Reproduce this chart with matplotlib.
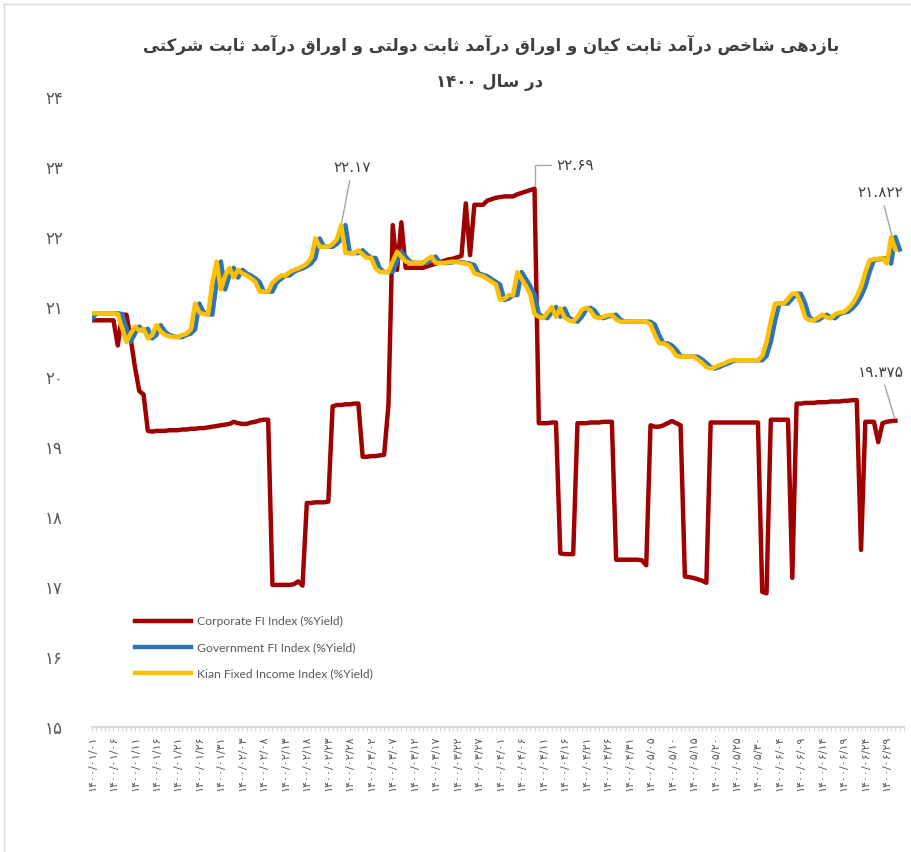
import matplotlib
matplotlib.use('Agg')
import matplotlib.pyplot as plt
import matplotlib.ticker as ticker
from matplotlib import font_manager as fm, ft2font
from matplotlib.lines import Line2D
import numpy as np

plt.rcParams['font.family'] = ['DejaVu Sans']

# ── data ──────────────────────────────────────────────────────
title_1 = 'بازدهی شاخص درآمد ثابت کیان و اوراق درآمد ثابت دولتی و اوراق درآمد ثابت شرکتی'
title_2 = 'در سال ۱۴۰۰'

series_names = ['Corporate FI Index (%Yield)',
                'Government FI Index (%Yield)',
                'Kian Fixed Income Index (%Yield)']

date_labels = [
    '۱۴۰۰/۰۱/۰۱', '۱۴۰۰/۰۱/۰۶', '۱۴۰۰/۰۱/۱۱', '۱۴۰۰/۰۱/۱۶', '۱۴۰۰/۰۱/۲۱',
    '۱۴۰۰/۰۱/۲۶', '۱۴۰۰/۰۱/۳۱', '۱۴۰۰/۰۲/۰۳', '۱۴۰۰/۰۲/۰۸', '۱۴۰۰/۰۲/۱۳',
    '۱۴۰۰/۰۲/۱۸', '۱۴۰۰/۰۲/۲۳', '۱۴۰۰/۰۲/۲۸', '۱۴۰۰/۰۳/۰۲', '۱۴۰۰/۰۳/۰۷',
    '۱۴۰۰/۰۳/۱۲', '۱۴۰۰/۰۳/۱۷', '۱۴۰۰/۰۳/۲۲', '۱۴۰۰/۰۳/۲۷', '۱۴۰۰/۰۴/۰۱',
    '۱۴۰۰/۰۴/۰۶', '۱۴۰۰/۰۴/۱۱', '۱۴۰۰/۰۴/۱۶', '۱۴۰۰/۰۴/۲۱', '۱۴۰۰/۰۴/۲۶',
    '۱۴۰۰/۰۴/۳۱', '۱۴۰۰/۰۵/۰۵', '۱۴۰۰/۰۵/۱۰', '۱۴۰۰/۰۵/۱۵', '۱۴۰۰/۰۵/۲۰',
    '۱۴۰۰/۰۵/۲۵', '۱۴۰۰/۰۵/۳۰', '۱۴۰۰/۰۶/۰۴', '۱۴۰۰/۰۶/۰۹', '۱۴۰۰/۰۶/۱۴',
    '۱۴۰۰/۰۶/۱۹', '۱۴۰۰/۰۶/۲۴', '۱۴۰۰/۰۶/۲۹',
]
label_step = 5          # one date label every 5 trading days
n_days = 190            # categories on the axis

y_ticks = [15, 16, 17, 18, 19, 20, 21, 22, 23, 24]
y_labels = ['۱۵', '۱۶', '۱۷', '۱۸', '۱۹', '۲۰', '۲۱', '۲۲', '۲۳', '۲۴']

corporate = [
    20.81, 20.81, 20.81, 20.81, 20.81, 20.81, 20.45, 20.89, 20.89, 20.55,
    20.14, 19.80, 19.75, 19.23, 19.22, 19.23, 19.23, 19.23, 19.24, 19.24,
    19.24, 19.25, 19.25, 19.26, 19.26, 19.27, 19.27, 19.28, 19.29, 19.30,
    19.31, 19.32, 19.33, 19.36, 19.34, 19.33, 19.33, 19.35, 19.36, 19.38,
    19.39, 19.39, 17.03, 17.03, 17.03, 17.03, 17.03, 17.04, 17.08, 17.02,
    18.20, 18.20, 18.21, 18.21, 18.21, 18.22, 19.58, 19.60, 19.60, 19.61,
    19.61, 19.62, 19.62, 18.86, 18.86, 18.87, 18.87, 18.88, 18.89, 19.60,
    22.17, 21.53, 22.21, 21.56, 21.56, 21.56, 21.56, 21.56, 21.58, 21.60,
    21.62, 21.64, 21.66, 21.68, 21.69, 21.71, 21.73, 22.48, 21.74, 22.46,
    22.46, 22.46, 22.52, 22.54, 22.56, 22.57, 22.58, 22.58, 22.58, 22.61,
    22.63, 22.65, 22.67, 22.69, 19.34, 19.34, 19.34, 19.35, 19.35, 17.48,
    17.47, 17.47, 17.47, 19.34, 19.34, 19.34, 19.35, 19.35, 19.35, 19.36,
    19.36, 19.36, 17.39, 17.39, 17.39, 17.39, 17.39, 17.39, 17.38, 17.31,
    19.31, 19.29, 19.29, 19.31, 19.34, 19.37, 19.34, 19.31, 17.15, 17.14,
    17.13, 17.11, 17.09, 17.06, 19.35, 19.35, 19.35, 19.35, 19.35, 19.35,
    19.35, 19.35, 19.35, 19.35, 19.35, 19.35, 16.93, 16.91, 19.39, 19.39,
    19.39, 19.39, 19.39, 17.13, 19.62, 19.62, 19.63, 19.63, 19.63, 19.64,
    19.64, 19.64, 19.65, 19.65, 19.65, 19.66, 19.66, 19.67, 19.67, 17.53,
    19.36, 19.36, 19.36, 19.07, 19.34, 19.36, 19.37, 19.375,
]

kian = [
    20.91, 20.91, 20.91, 20.91, 20.91, 20.91, 20.90, 20.70, 20.50, 20.62,
    20.72, 20.66, 20.69, 20.55, 20.60, 20.74, 20.65, 20.60, 20.58, 20.57,
    20.57, 20.60, 20.62, 20.68, 21.05, 20.92, 20.90, 20.89, 21.35, 21.65,
    21.25, 21.45, 21.56, 21.42, 21.53, 21.48, 21.45, 21.41, 21.36, 21.22,
    21.22, 21.22, 21.35, 21.40, 21.45, 21.45, 21.50, 21.53, 21.55, 21.58,
    21.62, 21.70, 21.98, 21.86, 21.86, 21.86, 21.90, 21.97, 22.17, 21.77,
    21.77, 21.77, 21.81, 21.75, 21.70, 21.70, 21.55, 21.50, 21.50, 21.50,
    21.65, 21.79, 21.72, 21.65, 21.63, 21.63, 21.63, 21.63, 21.68, 21.72,
    21.63, 21.63, 21.63, 21.64, 21.65, 21.64, 21.63, 21.62, 21.60, 21.48,
    21.46, 21.44, 21.40, 21.36, 21.32, 21.10, 21.12, 21.17, 21.17, 21.50,
    21.40, 21.30, 21.18, 20.90, 20.86, 20.84, 20.92, 21.00, 20.86, 20.98,
    20.85, 20.81, 20.79, 20.86, 20.96, 20.99, 20.95, 20.86, 20.84, 20.86,
    20.88, 20.89, 20.82, 20.79, 20.79, 20.79, 20.79, 20.79, 20.79, 20.79,
    20.75, 20.60, 20.48, 20.48, 20.45, 20.39, 20.30, 20.29, 20.29, 20.29,
    20.29, 20.25, 20.20, 20.14, 20.12, 20.14, 20.17, 20.19, 20.22, 20.24,
    20.24, 20.24, 20.24, 20.24, 20.24, 20.24, 20.30, 20.50, 20.80, 21.05,
    21.05, 21.05, 21.12, 21.19, 21.19, 21.05, 20.85, 20.81, 20.81, 20.85,
    20.89, 20.85, 20.84, 20.90, 20.92, 20.93, 20.98, 21.05, 21.15, 21.29,
    21.50, 21.67, 21.68, 21.69, 21.70, 21.62, 22.00, 21.822,
]

government = [
    20.83, 20.91, 20.91, 20.91, 20.91, 20.91, 20.91, 20.90, 20.70, 20.50,
    20.62, 20.72, 20.66, 20.69, 20.55, 20.60, 20.74, 20.65, 20.60, 20.58,
    20.57, 20.57, 20.60, 20.62, 20.68, 21.05, 20.92, 20.90, 20.89, 21.35,
    21.65, 21.25, 21.45, 21.56, 21.42, 21.53, 21.48, 21.45, 21.41, 21.36,
    21.22, 21.22, 21.22, 21.35, 21.40, 21.45, 21.45, 21.50, 21.53, 21.55,
    21.58, 21.62, 21.70, 21.98, 21.86, 21.86, 21.86, 21.90, 21.97, 22.17,
    21.77, 21.77, 21.77, 21.81, 21.75, 21.70, 21.70, 21.55, 21.50, 21.50,
    21.50, 21.65, 21.79, 21.72, 21.65, 21.63, 21.63, 21.63, 21.63, 21.68,
    21.72, 21.63, 21.63, 21.63, 21.64, 21.65, 21.64, 21.63, 21.62, 21.60,
    21.48, 21.46, 21.44, 21.40, 21.36, 21.32, 21.10, 21.12, 21.17, 21.17,
    21.50, 21.40, 21.30, 21.18, 20.90, 20.86, 20.84, 20.92, 21.00, 20.86,
    20.98, 20.85, 20.81, 20.79, 20.86, 20.96, 20.99, 20.95, 20.86, 20.84,
    20.86, 20.88, 20.89, 20.82, 20.79, 20.79, 20.79, 20.79, 20.79, 20.79,
    20.79, 20.75, 20.60, 20.48, 20.48, 20.45, 20.39, 20.30, 20.29, 20.29,
    20.29, 20.29, 20.25, 20.20, 20.14, 20.12, 20.14, 20.17, 20.19, 20.22,
    20.24, 20.24, 20.24, 20.24, 20.24, 20.24, 20.24, 20.30, 20.50, 20.80,
    21.05, 21.05, 21.05, 21.12, 21.19, 21.19, 21.05, 20.85, 20.81, 20.81,
    20.85, 20.89, 20.85, 20.84, 20.90, 20.92, 20.93, 20.98, 21.05, 21.15,
    21.29, 21.50, 21.67, 21.68, 21.69, 21.70, 21.62, 22.00, 21.822,
]

ann_kian_peak = '۲۲.۱۷'
ann_corp_peak = '۲۲.۶۹'
ann_kian_last = '۲۱.۸۲۲'
ann_corp_last = '۱۹.۳۷۵'

COLORS = {'corp': '#A00000', 'gov': '#2E75B6', 'kian': '#FFC000'}
TEXT = '#404040'
AXIS = '#D9D9D9'

# ── minimal Persian shaping (matplotlib has no bidi / joining) ─
FORMS = {
    'ا': ('\uFE8D', '\uFE8E', None, None),
    'آ': ('\uFE81', '\uFE82', None, None),
    'د': ('\uFEA9', '\uFEAA', None, None),
    'ر': ('\uFEAD', '\uFEAE', None, None),
    'ز': ('\uFEAF', '\uFEB0', None, None),
    'و': ('\uFEED', '\uFEEE', None, None),
    'ب': ('\uFE8F', '\uFE90', '\uFE91', '\uFE92'),
    'ت': ('\uFE95', '\uFE96', '\uFE97', '\uFE98'),
    'ث': ('\uFE99', '\uFE9A', '\uFE9B', '\uFE9C'),
    'خ': ('\uFEA5', '\uFEA6', '\uFEA7', '\uFEA8'),
    'س': ('\uFEB1', '\uFEB2', '\uFEB3', '\uFEB4'),
    'ش': ('\uFEB5', '\uFEB6', '\uFEB7', '\uFEB8'),
    'ص': ('\uFEB9', '\uFEBA', '\uFEBB', '\uFEBC'),
    'ق': ('\uFED5', '\uFED6', '\uFED7', '\uFED8'),
    'ک': ('\uFB8E', '\uFB8F', '\uFB90', '\uFB91'),
    'ل': ('\uFEDD', '\uFEDE', '\uFEDF', '\uFEE0'),
    'م': ('\uFEE1', '\uFEE2', '\uFEE3', '\uFEE4'),
    'ن': ('\uFEE5', '\uFEE6', '\uFEE7', '\uFEE8'),
    'ه': ('\uFEE9', '\uFEEA', '\uFEEB', '\uFEEC'),
    'ی': ('\uFBFC', '\uFBFD', '\uFBFE', '\uFBFF'),
}
_path = fm.findfont(fm.FontProperties(family='DejaVu Sans', weight='bold'))
_cmap = ft2font.FT2Font(_path).get_charmap()
if not all(ord(c) in _cmap for c in FORMS['ک']):
    FORMS['ک'] = ('\uFED9', '\uFEDA', '\uFEDB', '\uFEDC')
if not all(ord(c) in _cmap for c in FORMS['ی']):
    FORMS['ی'] = ('\uFEEF', '\uFEF0', '\uFEF3', '\uFEF4')

DIGITS = set('۰۱۲۳۴۵۶۷۸۹0123456789./')


def fa(text):
    out = []
    for k, ch in enumerate(text):
        f = FORMS.get(ch)
        if f is None:
            out.append(ch)
            continue
        prev = text[k - 1] if k > 0 else ''
        nxt = text[k + 1] if k + 1 < len(text) else ''
        jp = prev in FORMS and FORMS[prev][2] is not None
        jn = f[2] is not None and nxt in FORMS
        out.append(f[3] if jp and jn else f[1] if jp else f[2] if jn else f[0])
    out = out[::-1]
    # numbers keep left-to-right order
    res, run = [], []
    for ch in out + ['']:
        if ch in DIGITS and ch:
            run.append(ch)
        else:
            res.extend(run[::-1])
            run = []
            if ch:
                res.append(ch)
    return ''.join(res)


# ── figure ────────────────────────────────────────────────────
fig = plt.figure(figsize=(9.11, 8.52), dpi=100)
ax = fig.add_axes([92 / 911, 125 / 852, 812 / 911, 630 / 852])

ax.plot(np.arange(len(corporate)), corporate, color=COLORS['corp'],
        lw=3.2, solid_joinstyle='round', label=series_names[0], zorder=2)
ax.plot(np.arange(len(government)), government, color=COLORS['gov'],
        lw=3.2, solid_joinstyle='round', label=series_names[1], zorder=3)
ax.plot(np.arange(len(kian)), kian, color=COLORS['kian'],
        lw=3.2, solid_joinstyle='round', label=series_names[2], zorder=4)

ax.set_xlim(0, n_days - 1)
ax.set_ylim(y_ticks[0], y_ticks[-1])

for s in ('top', 'right', 'left'):
    ax.spines[s].set_visible(False)
ax.spines['bottom'].set_color(AXIS)
ax.spines['bottom'].set_linewidth(1.5)

ax.set_yticks(y_ticks)
ax.set_yticklabels(y_labels, fontsize=12, color='#595959')
ax.tick_params(axis='y', length=0, pad=21)

ax.set_xticks(np.arange(len(date_labels)) * label_step)
ax.set_xticklabels(date_labels, rotation=90, fontsize=8, color='#595959')
ax.xaxis.set_minor_locator(ticker.MultipleLocator(1))
ax.tick_params(axis='x', which='both', length=3, width=0.8, color=AXIS,
               pad=3)

# ── value callouts ────────────────────────────────────────────
arrow = dict(arrowstyle='-', color='#A6A6A6', lw=1, shrinkA=2, shrinkB=2)
ik = int(np.argmax(kian[:100]))
ax.annotate(ann_kian_peak, xy=(ik, kian[ik]), xytext=(8, 36),
            textcoords='offset points', ha='center', va='bottom',
            fontsize=11, color=TEXT, arrowprops=arrow)
ic = int(np.argmax(corporate))
ax.annotate(ann_corp_peak, xy=(ic, corporate[ic]), xytext=(16, 17),
            textcoords='offset points', ha='left', va='center',
            fontsize=11, color=TEXT,
            arrowprops=dict(arrow, connectionstyle='angle,angleA=0,angleB=90,rad=0'))
ax.annotate(ann_kian_last, xy=(len(kian) - 1, kian[-1]), xytext=(-27, 41),
            textcoords='offset points', ha='left', va='center',
            fontsize=11, color=TEXT, arrowprops=arrow, annotation_clip=False)
ax.annotate(ann_corp_last, xy=(len(corporate) - 1, corporate[-1]),
            xytext=(-27, 35), textcoords='offset points', ha='left',
            va='center', fontsize=11, color=TEXT, arrowprops=arrow,
            annotation_clip=False)

# ── legend ────────────────────────────────────────────────────
leg = ax.legend(loc='upper left', bbox_to_anchor=(135 / 911, 1 - 616 / 852),
                bbox_transform=fig.transFigure, frameon=False,
                prop={'family': 'Lato', 'size': 8.7}, handlelength=4.6,
                handletextpad=0.55, labelspacing=1.25, borderpad=0,
                borderaxespad=0)
for t in leg.get_texts():
    t.set_color('#595959')

# ── title ─────────────────────────────────────────────────────
fig.text(491 / 911, 1 - 45 / 852, fa(title_1), ha='center', va='center',
         fontsize=12, fontweight='bold', color=TEXT)
fig.text(490 / 911, 1 - 82 / 852, fa(title_2), ha='center', va='center',
         fontsize=12, fontweight='bold', color=TEXT)

# chart-area border (top and left edges show in the crop)
fig.add_artist(Line2D([3 / 911, 1], [1 - 4 / 852, 1 - 4 / 852],
                      transform=fig.transFigure, color=AXIS, lw=1))
fig.add_artist(Line2D([3.5 / 911, 3.5 / 911], [0, 1 - 4 / 852],
                      transform=fig.transFigure, color=AXIS, lw=1))

fig.savefig('out.png', dpi=100)
